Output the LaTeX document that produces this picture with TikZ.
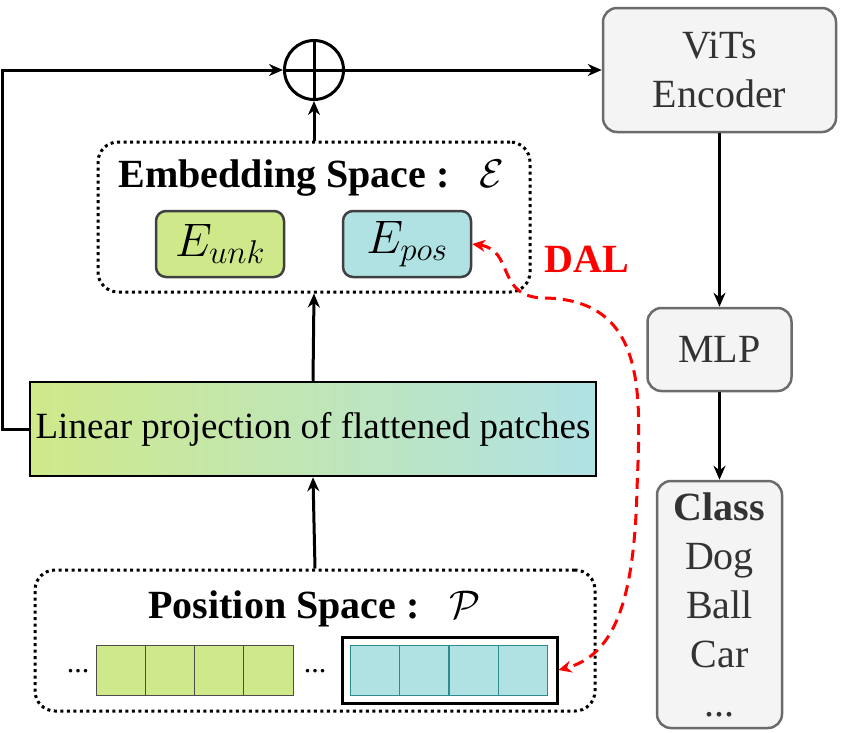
\RequirePackage{fix-cm}
\documentclass[tikz,border=0pt]{standalone}
\usepackage{amsmath}
\usepackage{amssymb}
\usepackage{fontspec}
\setmainfont{Liberation Serif}
\usepackage{tikz}
\usetikzlibrary{positioning,arrows.meta}

\definecolor{unkgreen}{HTML}{CFE98A}
\definecolor{posteal}{HTML}{B0E2E4}
\definecolor{boxgray}{HTML}{F4F4F4}
\definecolor{linegray}{HTML}{6B6B6B}
\definecolor{txtgray}{HTML}{333333}
\definecolor{cellteal}{HTML}{2E8B8B}
\newcommand{\bigfont}{\fontsize{40}{49}\selectfont}

\begin{document}
\begin{tikzpicture}[
    x=1pt, y=-1pt,
    graybox/.style={rectangle, rounded corners=14pt, draw=linegray, fill=boxgray, line width=2.5pt, text=txtgray, font=\bigfont, align=center, inner sep=0pt},
    spacebox/.style={rectangle, rounded corners=20pt, draw=black, line width=3pt, dash pattern=on 3pt off 3.5pt, inner sep=0pt},
    ebox/.style={rectangle, rounded corners=10pt, draw=black!75, line width=2.5pt, minimum width=128pt, minimum height=66pt, font=\fontsize{47}{52}\selectfont},
    cellbox/.style={rectangle, minimum width=49.25pt, minimum height=50pt, line width=1pt, inner sep=0pt},
    flow/.style={-{Stealth[length=14pt,width=12pt]}, line width=3pt},
    dal/.style={{Stealth[length=13pt,width=12pt]}-{Stealth[length=13pt,width=12pt]}, red, line width=3pt, dash pattern=on 11pt off 7pt}
    ]
        \useasboundingbox (0,0) rectangle (841,732);

        %Nodes
        \node[circle, draw, line width=3pt, minimum size=59pt, inner sep=0pt]
            (plus)  at (314,70)     {};
        \node[graybox, minimum width=233pt, minimum height=124pt]
            (enc)   at (719.5,70)   {ViTs\\Encoder};
        \node[graybox, minimum width=144pt, minimum height=83pt]
            (mlp)   [below=173.5pt of enc]  {MLP};
        \node[graybox, minimum width=125pt, minimum height=247pt]
            (cls)   [below=87.5pt of mlp]   {\textbf{Class}\\Dog\\Ball\\Car\\...};

        \node[spacebox, minimum width=432pt, minimum height=150pt]
            (emb)   at (314,217)    {};
        \node[font=\bigfont, anchor=base west]
            (embtitle) at (115,187) {\textbf{Embedding Space :}\hspace{30pt}$\mathcal{E}$};
        \node[ebox, fill=unkgreen]
            (eunk)  at (220,244)    {$E_{unk}$};
        \node[ebox, fill=posteal]
            (epos)  [right=56.5pt of eunk]  {$E_{pos}$};

        \node[rectangle, draw=black, line width=2.5pt, left color=unkgreen, right color=posteal, minimum width=566pt, minimum height=94pt, inner sep=0pt, font=\fontsize{37}{44}\selectfont]
            (lin)   at (313,429)    {Linear projection of flattened patches};

        \node[spacebox, minimum width=560pt, minimum height=141pt]
            (pos)   at (315,640.5)  {};
        \node[font=\bigfont, anchor=base west]
            (postitle) at (145,618) {\textbf{Position Space :}\hspace{30pt}$\mathcal{P}$};
        \foreach \i in {1,...,4} {
            \node[cellbox, fill=unkgreen, draw=black!70] (g\i) at (71.4+49.25*\i,670) {};
            \node[cellbox, fill=posteal, draw=cellteal] (t\i) at (325.25+49.5*\i,670) {};
        }
        \node[rectangle, draw=black, line width=3pt, minimum width=215pt, minimum height=66pt, inner sep=0pt]
            (frame) at (449.5,670)  {};
        \node[font=\fontsize{30}{36}\selectfont, anchor=base]
            (ldots) at (78,672)     {...};
        \node[font=\fontsize{30}{36}\selectfont, anchor=base]
            (mdots) at (315,672)    {...};

        \node[font=\bigfont\bfseries, text=red, anchor=base]
            (dallabel) at (586.5,272) {DAL};

        %Lines
        \draw[line width=3pt] (plus.north) -- (plus.south) (plus.west) -- (plus.east);
        \draw[flow] (lin.west) -- ++(-26,0) |- (plus.west);
        \draw[flow] (plus.east) -- (enc.west);
        \draw[flow] (emb.north) -- (plus.south);
        \draw[flow] (lin.north) -- (emb.south);
        \draw[flow] (pos.north) -- (lin.south);
        \draw[flow] (enc.south) -- (mlp.north);
        \draw[flow] (mlp.south) -- (cls.north);
        \draw[dal]
            (epos.east) .. controls (515,250) and (495,298) .. (545,298)
            .. controls (650,300) and (640,400) .. (637,490)
            .. controls (634,600) and (615,655) .. (frame.east);
    \end{tikzpicture}
\end{document}
